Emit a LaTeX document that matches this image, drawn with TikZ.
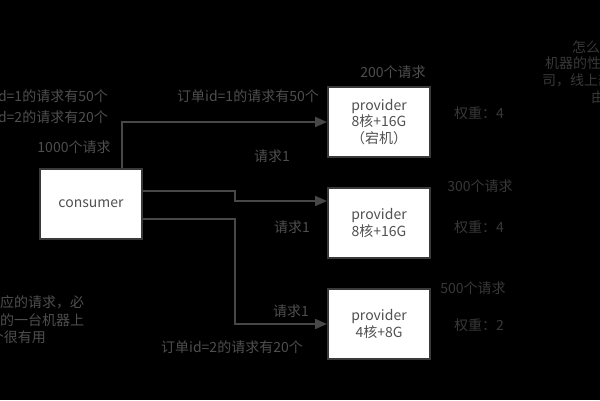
\documentclass[tikz,border=0pt]{standalone}
\usepackage{fontspec}
\setmainfont{Noto Sans CJK SC}
\usetikzlibrary{arrows.meta}
\definecolor{boxgray}{HTML}{3A3A3A}
\definecolor{linegray}{HTML}{474747}
\definecolor{boxtext}{HTML}{505050}
\definecolor{lblgray}{HTML}{4E4E4E}
\definecolor{dimgray}{HTML}{383838}
\begin{document}
\begin{tikzpicture}[x=1pt,y=-1pt,
  box/.style={draw=boxgray, line width=2pt, fill=white, minimum width=102pt, minimum height=70pt,
    inner sep=0pt, align=center, text=boxtext, font=\fontsize{14}{16.5}\selectfont},
  lbl/.style={text=lblgray, inner sep=0pt, font=\fontsize{14}{16}\selectfont},
  dim/.style={text=dimgray, inner sep=0pt, font=\fontsize{14}{16}\selectfont},
  conn/.style={draw=linegray, line width=2pt, -{Triangle[length=12pt,width=10pt]}}]
\clip (0,0) rectangle (600,400);
\useasboundingbox (0,0) rectangle (600,400);
\fill[black] (0,0) rectangle (600,400);

% boxes
\node[box] (cons) at (91,204) {consumer};
\node[box] (p1) at (379,122) {provider\\8核+16G\\（宕机）};
\node[box] (p2) at (379,223) {provider\\8核+16G};
\node[box] (p3) at (379,324) {provider\\4核+8G};

% connectors
\coordinate (j2) at (235,201);
\coordinate (j3) at (235,324);
\draw[conn] ([xshift=-21pt]cons.north east) |- (p1.west);
\draw[conn] ([yshift=13pt]cons.east) -| (j2) -- ([yshift=22pt]p2.west);
\draw[conn] ([yshift=-15pt]cons.east) -| (j3) -- (p3.west);

% labels
\node[lbl, anchor=east] (la) at (108,96) {订单id=1的请求有50个};
\node[lbl, anchor=east] (lb) at (108,117) {订单id=2的请求有20个};
\node[lbl] (lc) at (74,147) {1000个请求};
\node[lbl] (ld) at (393,72) {200个请求};
\node[lbl] (le) at (248,96) {订单id=1的请求有50个};
\node[lbl] (lf) at (272,156) {请求1};
\node[dim] (lg) at (479,113) {权重：4};
\node[dim] (lh) at (480,186) {300个请求};
\node[lbl] (li) at (292,227) {请求1};
\node[dim] (lj) at (479,227) {权重：4};
\node[dim] (lk) at (473,288) {500个请求};
\node[dim] (ll) at (479,325) {权重：2};
\node[lbl] (lm) at (291,311) {请求1};
\node[lbl] (ln) at (232,347) {订单id=2的请求有20个};

% clipped side notes
\node[lbl, anchor=west] (ba) at (0,302) {应的请求，必};
\node[lbl, anchor=west] (bb) at (0,320) {的一台机器上};
\node[lbl, anchor=east] (bc) at (46,337) {个很有用};
\node[dim, anchor=west] (ra) at (572,47) {怎么};
\node[dim, anchor=west] (rb) at (545,63) {机器的性};
\node[dim, anchor=west] (rc) at (542,80) {司，线上部};
\node[dim, anchor=west] (rd) at (591,97) {由};
\end{tikzpicture}
\end{document}
